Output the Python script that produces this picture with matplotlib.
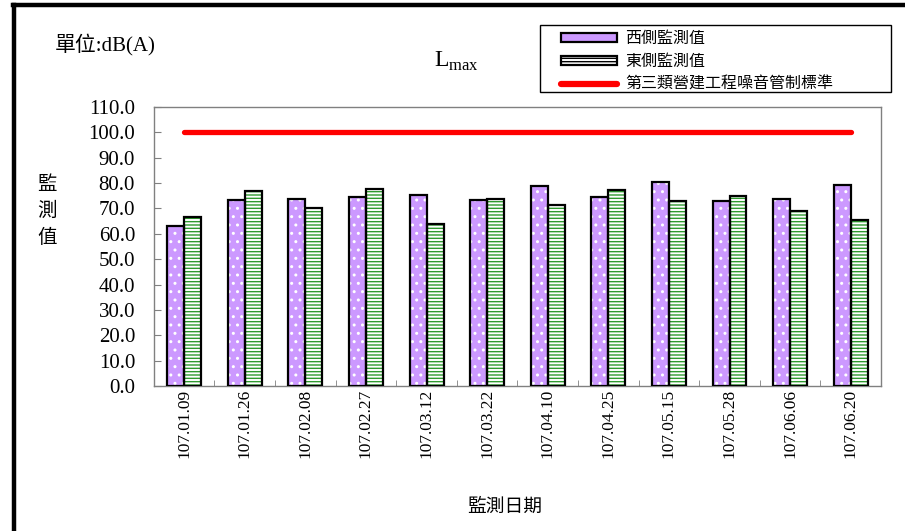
import numpy as np
import matplotlib.pyplot as plt
from matplotlib.patches import Patch, Rectangle
from matplotlib.lines import Line2D

plt.rcParams['font.family'] = ['Liberation Serif', 'Noto Sans CJK TC']
plt.rcParams['hatch.linewidth'] = 1.0

dates = ['107.01.09', '107.01.26', '107.02.08', '107.02.27', '107.03.12', '107.03.22',
         '107.04.10', '107.04.25', '107.05.15', '107.05.28', '107.06.06', '107.06.20']
west = [63.2, 73.4, 73.8, 74.5, 75.2, 73.3, 78.8, 74.4, 80.5, 72.8, 73.8, 79.2]
east = [66.5, 76.7, 70.1, 77.5, 64.0, 73.8, 71.3, 77.4, 72.8, 75.1, 69.1, 65.4]
limit = 100.0

cjk = ['Noto Sans CJK TC']
purple = '#cc99ff'
green = '#2e9a2e'

fig = plt.figure(figsize=(9.05, 5.31), dpi=100)
ax = fig.add_axes([0.170, 0.273, 0.8035, 0.5255])

x = np.arange(len(dates))
w = 0.28

# purple bars with white dots, green bars with horizontal stripes
ax.bar(x - w/2, west, w, color=purple, edgecolor='white', hatch='..', linewidth=0, zorder=2)
ax.bar(x - w/2, west, w, fill=False, edgecolor='black', linewidth=1.6, zorder=3)
ax.bar(x + w/2, east, w, color='white', edgecolor=green, hatch='-----', linewidth=0, zorder=2)
ax.bar(x + w/2, east, w, fill=False, edgecolor='black', linewidth=1.6, zorder=3)

ax.plot([x[0], x[-1]], [limit, limit], color='#ff0000', linewidth=3.8,
        solid_capstyle='round', zorder=4)

ax.set_xlim(-0.5, len(dates) - 0.5)
ax.set_ylim(0, 110)
ax.set_yticks(np.arange(0, 111, 10))
ax.set_yticklabels(['%.1f' % v for v in np.arange(0, 111, 10)], fontsize=15)
ax.set_xticks(x)
ax.set_xticklabels(dates, rotation=90, fontsize=12.5)
ax.set_xticks(np.arange(0.5, len(dates) - 0.5, 1), minor=True)
ax.tick_params(axis='x', which='major', length=0, pad=2)
ax.tick_params(axis='x', which='minor', direction='in', length=4, color='#808080')
ax.tick_params(axis='y', direction='in', length=5, color='#808080', pad=13.5)
for s in ax.spines.values():
    s.set_color('#808080')
    s.set_linewidth(1.0)

fig.text(0.052, 0.603, '監\n測\n值', fontsize=14, family=cjk, ha='center', va='center',
         linespacing=1.35)
fig.text(0.558, 0.047, '監測日期', fontsize=13.5, family=cjk, ha='center', va='center')
fig.text(0.060, 0.917, '單位:dB(A)', fontsize=15, va='center',
         family=['Liberation Serif', 'Noto Sans CJK TC'])
fig.text(0.48, 0.885, r'L$_{\mathregular{max}}$', fontsize=17, ha='left', va='center')

# legend box drawn separately so it spans the full width
fig.add_artist(Rectangle((0.597, 0.827), 0.388, 0.126, transform=fig.transFigure,
                         facecolor='white', edgecolor='black', linewidth=1.0, zorder=1))
handles = [
    Patch(facecolor=purple, edgecolor='black', linewidth=1.6),
    Patch(facecolor='white', edgecolor='black', hatch='-----', linewidth=1.6),
    Line2D([0], [0], color='#ff0000', linewidth=4.5, solid_capstyle='round'),
]
labels = ['西側監測值', '東側監測值', '第三類營建工程噪音管制標準']
leg = fig.legend(handles, labels, loc='upper left', bbox_to_anchor=(0.615, 0.953),
                 prop={'family': cjk, 'size': 11.5}, frameon=False,
                 handlelength=3.5, handleheight=0.5, labelspacing=0.38,
                 borderpad=0.3, handletextpad=0.5, borderaxespad=0)
leg.set_zorder(2)

# heavy frame along the top and left edges
fig.add_artist(Line2D([0.014, 1.0], [0.991, 0.991], color='black', linewidth=3.2,
                      transform=fig.transFigure))
fig.add_artist(Line2D([0.015, 0.015], [0.0, 0.991], color='black', linewidth=3.2,
                      transform=fig.transFigure))

fig.savefig('out.png', dpi=100)
